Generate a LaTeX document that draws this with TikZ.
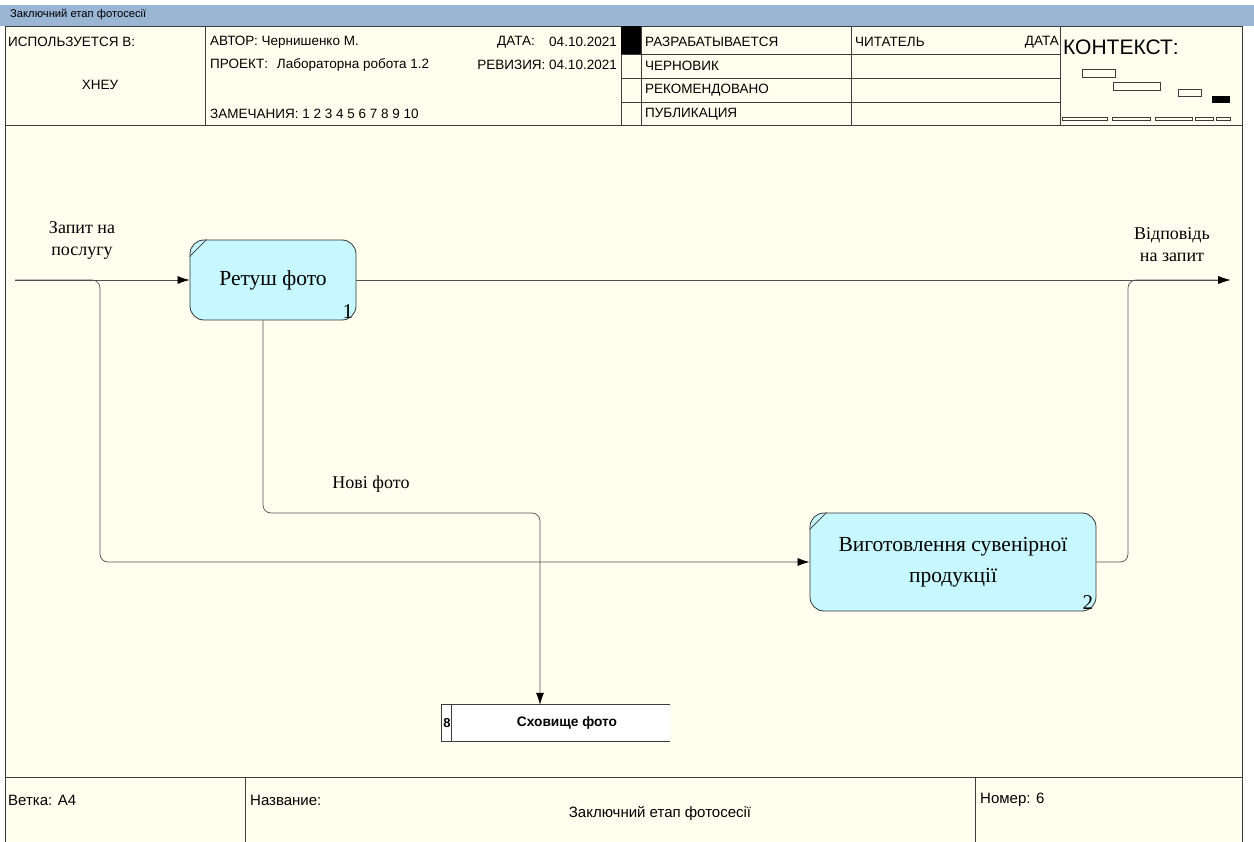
\documentclass[tikz,border=0pt]{standalone}
\usepackage{fontspec}
\setmainfont{Liberation Serif}
\newfontfamily\hdr{Liberation Sans}
\usetikzlibrary{arrows.meta}
\definecolor{bgc}{RGB}{255,255,240}
\definecolor{barc}{RGB}{155,181,212}
\definecolor{boxc}{RGB}{200,248,255}
\definecolor{lnc}{RGB}{80,80,80}
\definecolor{frc}{RGB}{60,60,60}
\tikzset{
  frame/.style={draw=frc, line width=0.9pt},
  htext/.style={font=\hdr\fontsize{13.5}{15}\selectfont, anchor=west, inner sep=0pt},
  ftext/.style={font=\hdr\fontsize{15}{17}\selectfont, anchor=west, inner sep=0pt},
  proc/.style={draw=black!80, fill=boxc, rounded corners=14pt, line width=0.8pt, minimum width=166pt, minimum height=80pt, align=center, font=\fontsize{21.5}{31}\selectfont},
  numf/.style={font=\fontsize{21}{24}\selectfont, anchor=south east, inner sep=1pt},
  conn/.style={draw=lnc, line width=0.7pt, rounded corners=8pt},
  arr/.style={conn, -{Latex[length=12pt,width=8pt,black]}},
  lab/.style={font=\fontsize{18}{22}\selectfont, align=center, inner sep=0pt},
}
\begin{document}
\begin{tikzpicture}[x=1pt,y=-1pt]
\useasboundingbox (0,0) rectangle (1254,842);
\fill[white] (0,0) rectangle (1254,842);
% title bar
\fill[barc] (0,5) rectangle (1254,26);
\node[anchor=west, inner sep=0pt, font=\hdr\fontsize{11.2}{12}\selectfont] (ttl) at (10,15) {Заключний етап фотосесії};
% background and frame
\fill[bgc] (5,26) rectangle (1242,842);
\draw[frame] (5,842) -- (5,26) -- (1242,26) -- (1242,842);
\draw[frame] (5,125) -- (1242,125);
\draw[frame] (5,777) -- (1242,777);
% header verticals
\foreach \x in {205,621,641,851,1060} \draw[frame] (\x,26) -- (\x,125);
\foreach \y in {54,78,102} \draw[frame] (621,\y) -- (1060,\y);
\fill[black] (621,26) rectangle (641,54);
% header texts
\node[htext] (h1) at (8,42) {ИСПОЛЬЗУЕТСЯ В:};
\node[htext, anchor=center] (h2) at (100,85) {ХНЕУ};
\node[htext] (h3) at (210,42) {АВТОР: Чернишенко М.};
\node[htext] (h4) at (497,42) {ДАТА:};
\node[htext, anchor=east] (h5) at (617,42) {04.10.2021};
\node[htext] (h6) at (210,65) {ПРОЕКТ:\hspace{9pt}Лабораторна робота 1.2};
\node[htext, anchor=east] (h7) at (617,65) {РЕВИЗИЯ: 04.10.2021};
\node[htext] (h8) at (210,114) {ЗАМЕЧАНИЯ: 1 2 3 4 5 6 7 8 9 10};
\node[htext] (s1) at (645,42) {РАЗРАБАТЫВАЕТСЯ};
\node[htext] (s2) at (645,66) {ЧЕРНОВИК};
\node[htext] (s3) at (645,90) {РЕКОМЕНДОВАНО};
\node[htext] (s4) at (645,114) {ПУБЛИКАЦИЯ};
\node[htext] (r1) at (855,42) {ЧИТАТЕЛЬ};
\node[htext, anchor=east] (r2) at (1059,42) {ДАТА};
\node[htext, font=\hdr\fontsize{21}{23}\selectfont] (ctx) at (1063,47) {КОНТЕКСТ:};
% context miniature
\draw[frc, line width=0.6pt] (1082,69) rectangle (1115,77);
\draw[frc, line width=0.6pt] (1113,82) rectangle (1160,90);
\draw[frc, line width=0.6pt] (1178,89) rectangle (1201,96);
\fill[black] (1212,96) rectangle (1230,103);
\foreach \a/\b in {1062/1107,1112/1150,1155/1192,1195/1213,1216/1230}
  \draw[frc, line width=0.6pt] (\a,117) rectangle (\b,120);
% footer
\foreach \x in {245,975} \draw[frame] (\x,777) -- (\x,842);
\node[ftext] (f1) at (8,800) {Ветка: А4};
\node[ftext] (f2) at (250,800) {Название:};
\node[ftext, anchor=center] (f3) at (660,813) {Заключний етап фотосесії};
\node[ftext] (f4) at (980,800) {Номер: 6};
% processes
\node[proc] (p1) at (273,280) {\raisebox{-3pt}{Ретуш фото}};
\draw[black!80, line width=0.7pt] ([yshift=-17pt]p1.north west) -- ([xshift=17pt]p1.north west);
\node[numf] (n1) at ([xshift=-2pt,yshift=1pt]p1.south east) {1};
\node[proc, minimum width=286pt, minimum height=98pt] (p2) at (953,562) {Виготовлення сувенірної\\продукції};
\draw[black!80, line width=0.7pt] ([yshift=-17pt]p2.north west) -- ([xshift=17pt]p2.north west);
\node[numf] (n2) at ([xshift=-2pt,yshift=1pt]p2.south east) {2};
% storage
\node[minimum width=228pt, minimum height=36pt, fill=white, inner sep=0pt] (st) at (556,723) {};
\draw[frc, line width=0.8pt] (st.north east) -- (st.north west) -- (st.south west) -- (st.south east);
\draw[frc, line width=0.8pt] ([xshift=10pt]st.north west) -- ([xshift=10pt]st.south west);
\node[font=\hdr\bfseries\fontsize{13.7}{15}\selectfont, inner sep=0pt] (stt) at (567,723) {Сховище фото};
\node[font=\hdr\bfseries\fontsize{13}{15}\selectfont, inner sep=0pt] (stn) at (447,723) {8};
% connectors
\coordinate (in) at (15,280);
\coordinate (out) at (1230,280);
\coordinate (j1) at (100,280);
\coordinate (j2) at (1128,280);
\coordinate (j3) at (540,513);
\draw[arr] (in) -- (p1.west);
\draw[arr] (in) -- (j1) |- (p2.west);
\draw[arr] (p1.east) -- (out);
\draw[arr] (p2.east) -| (j2) -- (out);
\draw[arr] ([xshift=-10pt]p1.south) |- (j3) -- (j3 |- st.north);
% labels
\node[lab] (l1) at (82,240) {Запит на\\послугу};
\node[lab] (l2) at (1172,245) {Відповідь\\на запит};
\node[lab] (l3) at (371,484) {Нові фото};
\end{tikzpicture}
\end{document}
